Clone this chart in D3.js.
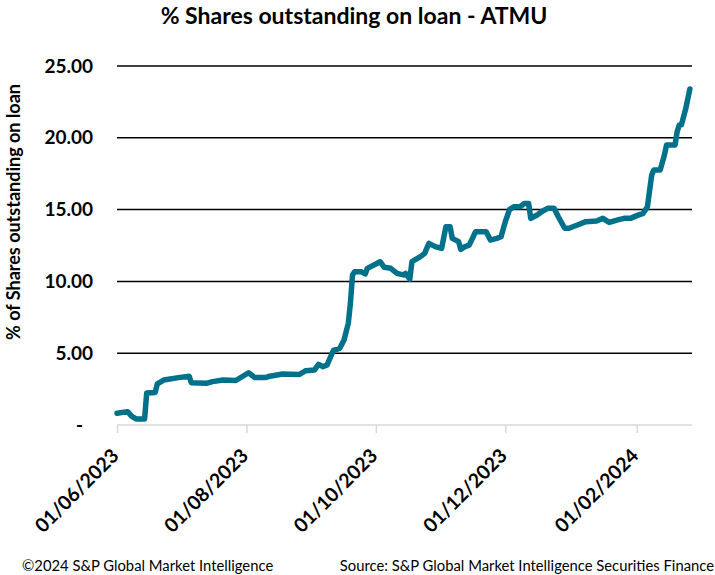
<!DOCTYPE html>
<html>
<head>
<meta charset="utf-8">
<script src="https://cdn.jsdelivr.net/npm/d3@7"></script>
<style>
  body { margin: 0; background: #fff; }
  svg { font-family: Lato, "Open Sans", sans-serif; }
</style>
</head>
<body>
<script>
// dates and % of shares on loan
var dates = ['2023-06-01','2023-06-06','2023-06-08','2023-06-10','2023-06-14','2023-06-15','2023-06-19','2023-06-20','2023-06-23','2023-06-30',
  '2023-07-05','2023-07-06','2023-07-13','2023-07-16','2023-07-21','2023-07-27','2023-08-02','2023-08-05','2023-08-10','2023-08-12',
  '2023-08-18','2023-08-26','2023-08-29','2023-09-02','2023-09-04','2023-09-06','2023-09-08','2023-09-11','2023-09-14','2023-09-16',
  '2023-09-18','2023-09-19','2023-09-20','2023-09-21','2023-09-24','2023-09-26','2023-09-27','2023-10-01','2023-10-03','2023-10-05',
  '2023-10-08','2023-10-11','2023-10-14','2023-10-15','2023-10-17','2023-10-18','2023-10-22','2023-10-24','2023-10-26','2023-10-29',
  '2023-11-01','2023-11-03','2023-11-05','2023-11-06','2023-11-09','2023-11-10','2023-11-12','2023-11-14','2023-11-17','2023-11-22',
  '2023-11-24','2023-11-27','2023-11-29','2023-12-01','2023-12-03','2023-12-05','2023-12-08','2023-12-10','2023-12-12','2023-12-13',
  '2023-12-16','2023-12-18','2023-12-21','2023-12-24','2023-12-26','2023-12-29','2023-12-31','2024-01-04','2024-01-08','2024-01-13',
  '2024-01-16','2024-01-19','2024-01-23','2024-01-26','2024-01-29','2024-02-01','2024-02-04','2024-02-05','2024-02-06','2024-02-08',
  '2024-02-09','2024-02-12','2024-02-14','2024-02-15','2024-02-19','2024-02-20','2024-02-21','2024-02-22','2024-02-24','2024-02-26'];
var values = [0.82,0.93,0.60,0.42,0.42,2.23,2.27,2.86,3.13,3.30,
  3.40,2.95,2.90,3.02,3.13,3.10,3.64,3.30,3.30,3.40,
  3.55,3.52,3.78,3.83,4.22,4.06,4.18,5.20,5.34,5.92,
  7.08,8.47,10.45,10.68,10.68,10.52,10.91,11.21,11.37,10.98,
  10.91,10.56,10.45,10.56,10.15,11.37,11.72,11.95,12.65,12.42,
  12.30,13.81,13.81,13.00,12.77,12.23,12.42,12.53,13.46,13.46,
  12.88,13.00,13.11,14.16,15.00,15.20,15.20,15.43,15.43,14.39,
  14.62,14.85,15.09,15.09,14.50,13.70,13.70,13.93,14.16,14.20,
  14.39,14.11,14.28,14.39,14.39,14.58,14.74,14.97,15.20,17.40,
  17.76,17.76,18.80,19.50,19.50,20.42,20.89,20.90,22.00,23.40];
var yTicks = [0,5,10,15,20,25];
var xTicks = ['2023-06-01','2023-08-01','2023-10-01','2023-12-01','2024-02-01'];

var parseDate = d3.timeParse("%Y-%m-%d");
var fmtDate = d3.timeFormat("%d/%m/%Y");
var data = dates.map(function(d,i){ return {date: parseDate(d), value: values[i]}; });

var width = 715, height = 575;
var margin = {left:117, right:23, top:66, bottom:150};

var x = d3.scaleTime()
    .domain([parseDate('2023-06-01'), parseDate('2024-02-27')])
    .range([margin.left, width - margin.right]);
var y = d3.scaleLinear()
    .domain([0,25])
    .range([height - margin.bottom, margin.top]);

var svg = d3.select("body").append("svg")
    .attr("width", width)
    .attr("height", height);

// title
svg.append("text")
    .attr("x", 354).attr("y", 24)
    .attr("text-anchor","middle")
    .attr("font-size", 23).attr("font-weight","bold")
    .text("% Shares outstanding on loan - ATMU");

// y axis title
svg.append("text")
    .attr("transform","translate(20,212) rotate(-90)")
    .attr("text-anchor","middle")
    .attr("font-size", 18).attr("font-weight","bold")
    .text("% of Shares outstanding on loan");

// gridlines (skip zero, that one is the grey axis)
svg.append("g").selectAll("line")
    .data(yTicks.filter(function(d){ return d > 0; }))
    .enter().append("line")
    .attr("x1", margin.left).attr("x2", width - margin.right)
    .attr("y1", function(d){ return y(d); }).attr("y2", function(d){ return y(d); })
    .attr("stroke","#000").attr("stroke-width",1.5);

// y labels
svg.append("g").selectAll("text")
    .data(yTicks)
    .enter().append("text")
    .attr("x", function(d){ return d === 0 ? 83 : 93; })
    .attr("y", function(d){ return y(d); })
    .attr("dy","0.35em")
    .attr("text-anchor","end")
    .attr("font-size", 19).attr("font-weight","bold")
    .text(function(d){ return d === 0 ? "-" : d3.format(".2f")(d); });

// x axis
var xAxis = d3.axisBottom(x)
    .tickValues(xTicks.map(parseDate))
    .tickSize(8)
    .tickFormat("");
var xg = svg.append("g")
    .attr("transform","translate(0,"+y(0)+")")
    .call(xAxis);
xg.select(".domain").attr("stroke","#d9d9d9").attr("stroke-width",1.5)
    .attr("d","M"+margin.left+",0H"+(width - margin.right));
xg.selectAll(".tick line").attr("stroke","#d9d9d9").attr("stroke-width",1.5);

svg.append("g").selectAll("text")
    .data(xTicks)
    .enter().append("text")
    .attr("transform", function(d){ return "translate("+(x(parseDate(d))+3)+","+(y(0)+32)+") rotate(-45)"; })
    .attr("text-anchor","end")
    .attr("font-size", 19.5).attr("font-weight","bold")
    .text(function(d){ return fmtDate(parseDate(d)); });

// the line
var line = d3.line()
    .x(function(d){ return x(d.date); })
    .y(function(d){ return y(d.value); });
svg.append("path")
    .datum(data)
    .attr("d", line)
    .attr("fill","none")
    .attr("stroke","#00718a")
    .attr("stroke-width",5.5)
    .attr("stroke-linejoin","round")
    .attr("stroke-linecap","round");

// footer
svg.append("text")
    .attr("x", 22).attr("y", 571)
    .attr("font-size", 14.8)
    .text("\u00a92024 S&P Global Market Intelligence");
svg.append("text")
    .attr("x", 714).attr("y", 571)
    .attr("text-anchor","end")
    .attr("font-size", 14.8)
    .text("Source: S&P Global Market Intelligence Securities Finance");
</script>
</body>
</html>
